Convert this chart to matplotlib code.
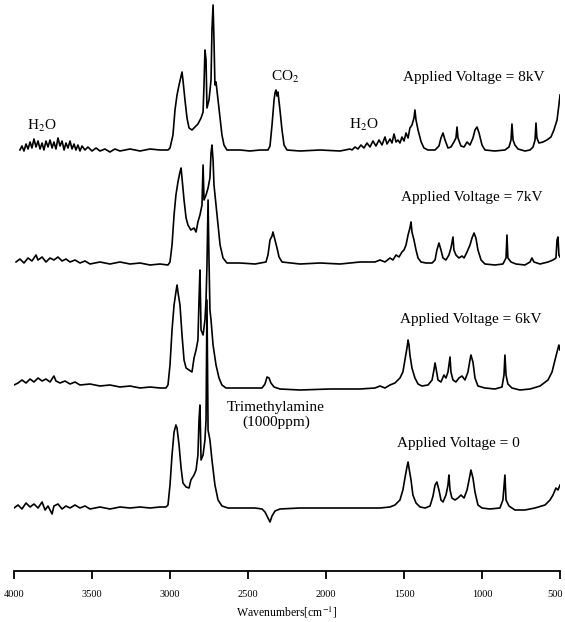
import matplotlib
matplotlib.use("Agg")
import matplotlib.pyplot as plt
import matplotlib.transforms as mtransforms

plt.rcParams["font.family"] = ["Liberation Serif", "DejaVu Serif"]
plt.rcParams["mathtext.fontset"] = "stix"

# FTIR spectra: wavenumber (cm-1) and band height (arb. units)
wn_8kv = [3962, 3949, 3936, 3923, 3910, 3897, 3885, 3872, 3859, 3846, 3833, 3820, 3808, 3795, 3782,
          3769, 3756, 3744, 3731, 3718, 3705, 3692, 3679, 3667, 3654, 3641, 3628, 3615, 3603, 3590,
          3577, 3564, 3545, 3526, 3500, 3474, 3449, 3417, 3385, 3353, 3321, 3256, 3192, 3128, 3064,
          3013, 3000, 2981, 2968, 2955, 2942, 2929, 2923, 2917, 2904, 2891, 2878, 2859, 2840, 2821,
          2801, 2788, 2782, 2776, 2769, 2763, 2750, 2737, 2731, 2724, 2718, 2712, 2705, 2692, 2679,
          2667, 2654, 2635, 2551, 2487, 2423, 2372, 2359, 2346, 2333, 2327, 2321, 2314, 2308, 2295,
          2282, 2269, 2250, 2167, 2038, 1910, 1846, 1833, 1814, 1795, 1776, 1757, 1737, 1718, 1699,
          1680, 1660, 1641, 1622, 1609, 1590, 1577, 1564, 1551, 1539, 1526, 1513, 1500, 1487, 1474,
          1462, 1449, 1436, 1430, 1423, 1410, 1390, 1372, 1346, 1301, 1276, 1263, 1250, 1237, 1218,
          1199, 1180, 1167, 1160, 1154, 1135, 1115, 1096, 1077, 1058, 1045, 1032, 1019, 1000, 981,
          917, 853, 827, 814, 808, 801, 789, 769, 725, 692, 673, 660, 654, 648, 635,
          609, 584, 558, 539, 519, 507, 500]
abs_8kv = [0, 4, -1, 6, 1, 8, 2, 11, 3, 9, 1, 7, 0, 9, 3,
           10, 2, 8, 1, 12, 4, 9, 0, 7, 2, 9, 1, 6, 0, 5,
           -1, 4, 0, 3, -1, 2, -1, 1, -2, 1, -1, 1, -1, 1, 0,
           0, 2, 15, 40, 55, 65, 74, 78, 70, 50, 32, 22, 20, 23, 26,
           32, 38, 65, 100, 90, 42, 50, 70, 120, 145, 110, 65, 68, 50, 32,
           15, 5, 0, 0, -1, 0, 0, 4, 25, 50, 57, 60, 54, 58, 40,
           20, 5, 0, -1, 0, -1, 1, 0, 3, 1, 5, 2, 7, 3, 9,
           4, 10, 5, 13, 6, 11, 7, 16, 8, 10, 7, 13, 9, 17, 12,
           22, 25, 32, 40, 30, 20, 8, 2, 0, 0, 4, 12, 17, 10, 2,
           3, 8, 12, 23, 12, 4, 3, 8, 5, 12, 20, 23, 17, 5, 0,
           -1, 0, 3, 10, 26, 10, 5, 1, -1, 0, 3, 10, 27, 12, 7,
           8, 10, 13, 20, 30, 45, 55]

wn_7kv = [3987, 3962, 3936, 3910, 3885, 3859, 3846, 3820, 3795, 3769, 3744, 3718, 3692, 3667, 3641,
          3609, 3577, 3545, 3513, 3449, 3385, 3321, 3256, 3192, 3128, 3064, 3013, 3000, 2987, 2974,
          2962, 2949, 2936, 2929, 2923, 2910, 2897, 2885, 2866, 2846, 2833, 2821, 2808, 2795, 2788,
          2782, 2769, 2756, 2744, 2737, 2731, 2724, 2718, 2705, 2692, 2679, 2660, 2635, 2551, 2455,
          2385, 2372, 2359, 2346, 2340, 2327, 2314, 2301, 2282, 2167, 2038, 1910, 1782, 1686, 1654,
          1622, 1590, 1571, 1551, 1532, 1513, 1500, 1487, 1474, 1462, 1455, 1449, 1436, 1423, 1410,
          1391, 1359, 1320, 1301, 1289, 1276, 1263, 1250, 1231, 1212, 1199, 1186, 1180, 1167, 1148,
          1128, 1115, 1096, 1077, 1064, 1051, 1039, 1026, 1006, 981, 917, 866, 846, 840, 834,
          814, 782, 725, 692, 680, 667, 628, 577, 545, 526, 519, 513, 507, 500]
abs_7kv = [1, 4, 0, 5, 2, 8, 3, 6, 1, 5, 3, 6, 2, 4, 1,
           3, 0, 2, -1, 1, -1, 1, -1, 0, -2, -1, -2, 1, 18, 48,
           68, 81, 91, 95, 85, 63, 45, 38, 33, 35, 31, 41, 48, 58, 98,
           63, 68, 75, 85, 110, 118, 103, 78, 58, 38, 18, 5, 0, 0, -1,
           1, 8, 23, 27, 31, 23, 15, 6, 1, -1, 0, -1, 1, 1, 3,
           1, 5, 3, 8, 6, 11, 13, 18, 28, 35, 41, 31, 23, 13, 5,
           1, 0, 0, 3, 13, 20, 13, 5, 3, 8, 15, 26, 13, 8, 5,
           7, 5, 11, 18, 25, 30, 25, 13, 3, -1, -2, -1, 5, 28, 5,
           1, -1, -2, 1, 5, 1, -1, 1, 3, 5, 23, 26, 8, 6]

wn_6kv = [4000, 3974, 3949, 3923, 3897, 3872, 3846, 3820, 3795, 3769, 3744, 3731, 3705, 3673, 3641,
          3609, 3577, 3513, 3449, 3385, 3321, 3256, 3192, 3128, 3064, 3026, 3013, 3000, 2987, 2974,
          2962, 2955, 2949, 2936, 2923, 2910, 2897, 2878, 2859, 2846, 2833, 2821, 2814, 2808, 2801,
          2788, 2776, 2769, 2763, 2756, 2750, 2744, 2737, 2724, 2705, 2686, 2667, 2641, 2551, 2410,
          2391, 2378, 2365, 2353, 2333, 2295, 2167, 1974, 1782, 1686, 1654, 1622, 1590, 1558, 1526,
          1507, 1494, 1481, 1474, 1468, 1462, 1449, 1430, 1410, 1385, 1346, 1320, 1308, 1301, 1295,
          1282, 1263, 1244, 1231, 1218, 1205, 1199, 1186, 1167, 1148, 1128, 1109, 1090, 1077, 1071,
          1058, 1045, 1026, 981, 917, 872, 859, 853, 846, 834, 808, 757, 692, 628, 577,
          551, 532, 519, 507, 500]
abs_6kv = [0, 2, 5, 2, 6, 3, 7, 4, 6, 3, 9, 4, 2, 4, 1,
           3, 0, 1, -1, 0, -2, -1, -3, -2, -3, -3, 0, 20, 55, 80,
           93, 100, 93, 80, 50, 25, 17, 15, 13, 27, 35, 45, 85, 115, 55,
           50, 65, 85, 120, 185, 125, 75, 65, 40, 20, 7, 0, -3, -3, -3,
           1, 8, 7, 2, -2, -4, -5, -4, -4, -3, -1, -3, 0, 2, 7,
           13, 25, 37, 45, 40, 30, 17, 7, 1, -1, 0, 5, 15, 22, 17,
           5, 3, 10, 7, 13, 28, 13, 5, 3, 7, 9, 5, 13, 25, 30,
           23, 7, -1, -3, -4, -2, 10, 30, 10, 1, -3, -5, -4, -1, 5,
           13, 25, 33, 40, 35]

wn_0kv = [4000, 3974, 3949, 3923, 3897, 3872, 3846, 3820, 3801, 3782, 3756, 3744, 3718, 3692, 3667,
          3641, 3609, 3577, 3545, 3513, 3449, 3385, 3321, 3256, 3192, 3128, 3064, 3026, 3013, 3000,
          2987, 2974, 2962, 2955, 2942, 2929, 2917, 2897, 2878, 2866, 2846, 2833, 2821, 2814, 2808,
          2801, 2788, 2776, 2769, 2763, 2756, 2744, 2731, 2712, 2692, 2667, 2628, 2455, 2410, 2391,
          2372, 2359, 2346, 2327, 2295, 2167, 1910, 1654, 1590, 1558, 1526, 1507, 1494, 1481, 1474,
          1468, 1455, 1443, 1423, 1397, 1365, 1333, 1314, 1301, 1289, 1276, 1263, 1250, 1231, 1218,
          1212, 1205, 1193, 1173, 1154, 1135, 1115, 1096, 1083, 1071, 1058, 1045, 1026, 1000, 949,
          885, 866, 853, 846, 827, 789, 725, 660, 596, 564, 545, 526, 513, 500]
abs_0kv = [0, 3, -1, 5, 1, 4, 0, 6, -2, 2, -6, 2, 4, -1, 2,
           0, 3, 0, 2, -1, 1, -1, 1, 0, 1, 0, 1, 1, 3, 23,
           53, 76, 83, 80, 63, 40, 25, 21, 20, 28, 33, 38, 53, 88, 103,
           48, 53, 68, 88, 208, 78, 68, 48, 23, 8, 2, 0, 0, -1, -4,
           -10, -14, -8, -3, -1, 0, 0, 0, 1, 3, 8, 18, 30, 41, 46,
           40, 28, 13, 5, 1, 0, 2, 12, 23, 26, 18, 8, 6, 13, 23,
           33, 18, 10, 8, 10, 13, 10, 18, 28, 38, 30, 16, 3, 0, -1,
           0, 8, 33, 8, 2, -2, -2, 0, 3, 8, 13, 20, 18, 23]

spectra = [(wn_8kv, abs_8kv), (wn_7kv, abs_7kv), (wn_6kv, abs_6kv), (wn_0kv, abs_0kv)]
voltage_labels = ["Applied Voltage = 8kV", "Applied Voltage = 7kV",
                  "Applied Voltage = 6kV", "Applied Voltage = 0"]


def main():
    fig = plt.figure(figsize=(5.65, 6.22), dpi=100)
    ax = fig.add_axes([14 / 565, 51 / 622, 546 / 565, 571 / 622])

    # vertical stacking of the traces
    offsets = [421, 308, 186, 63]
    label_pos = [(1051, 493), (1064, 373), (1071, 251), (1154, 128)]

    for (wn, a), off, lab, (lx, ly) in zip(spectra, offsets, voltage_labels, label_pos):
        ax.plot(wn, [v + off for v in a], color="black", linewidth=1.2)
        ax.text(lx, ly, lab, ha="center", va="center", fontsize=11)

    ax.text(3820, 445, "H$_2$O", ha="center", va="center", fontsize=11)
    ax.text(2263, 494, "CO$_2$", ha="center", va="center", fontsize=11)
    ax.text(1757, 446, "H$_2$O", ha="center", va="center", fontsize=11)
    ax.text(2321, 156, "Trimethylamine\n(1000ppm)", ha="center", va="center",
            fontsize=11, linespacing=1.1)

    ax.set_xlim(4000, 500)
    ax.set_ylim(0, 571)
    ax.set_xticks([4000, 3500, 3000, 2500, 2000, 1500, 1000, 500])
    ax.set_yticks([])
    for side in ["left", "right", "top"]:
        ax.spines[side].set_visible(False)
    ax.spines["bottom"].set_linewidth(1.3)
    ax.tick_params(axis="x", direction="out", length=6, width=1.3, labelsize=7.5, pad=8)
    ax.set_xlabel("Wavenumbers[cm$^{-1}$]", fontsize=8.5, labelpad=4)

    # keep the last tick label inside the figure
    fig.canvas.draw()
    last = ax.get_xticklabels()[-1]
    last.set_transform(last.get_transform() + mtransforms.ScaledTranslation(-5 / 100, 0, fig.dpi_scale_trans))

    fig.savefig("out.png", dpi=100)
    plt.close(fig)


if __name__ == "__main__":
    main()
